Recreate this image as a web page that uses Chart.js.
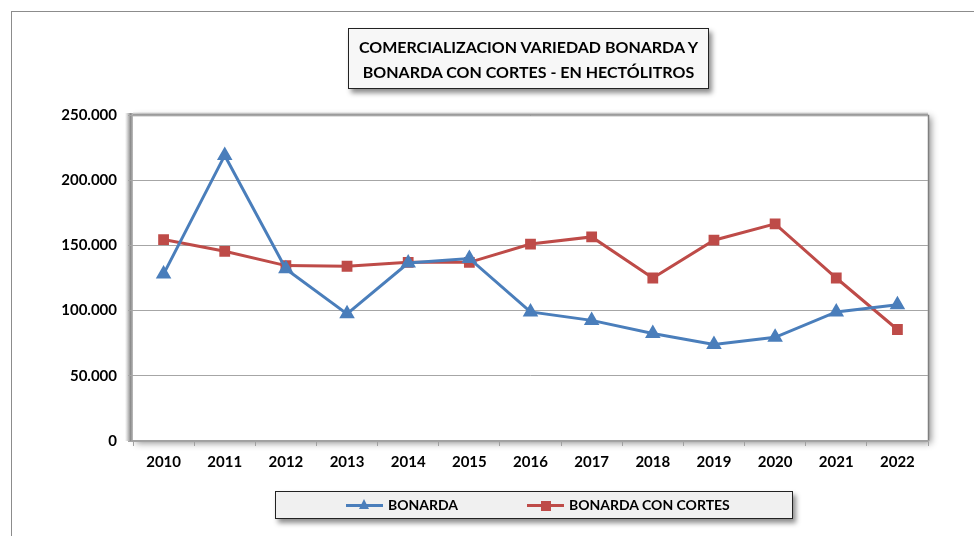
<!DOCTYPE html>
<html>
<head>
<meta charset="utf-8">
<script src="https://cdn.jsdelivr.net/npm/chart.js@4.4.1/dist/chart.umd.min.js"></script>
<style>
  html, body { margin: 0; padding: 0; background: #fff; }
  #wrap { position: relative; width: 974px; height: 536px; overflow: hidden; font-family: Lato, "Open Sans", sans-serif; }
  #frame { position: absolute; left: 11px; top: 11px; width: 1000px; height: 600px; border-left: 1px solid #8c8c8c; border-top: 1px solid #8c8c8c; }
  canvas { position: absolute; left: 0; top: 0; }
  .box { position: absolute; border: 1px solid #222; box-shadow: 3px 4px 5px rgba(0,0,0,0.45); font-weight: bold; color: #000; }
  #title { left: 348px; top: 28px; width: 361px; height: 61px; background: #f7f7f7; text-align: center; font-size: 16px; line-height: 25px; padding-top: 5px; box-sizing: border-box; }
  #legend { left: 275px; top: 491px; width: 518px; height: 28px; background: #f0f0f0; font-size: 14px; box-sizing: border-box; }
  .item { position: absolute; top: 0; height: 26px; line-height: 26px; white-space: nowrap; }
  .line { position: absolute; top: 12px; width: 37px; height: 3px; }
  .mk { position: absolute; }
</style>
</head>
<body>
<div id="wrap">
  <div id="frame"></div>
  <canvas id="chart" width="974" height="536"></canvas>
  <div id="title" class="box">COMERCIALIZACION VARIEDAD BONARDA Y<br>BONARDA CON CORTES - EN HECTÓLITROS</div>
  <div id="legend" class="box"></div>
</div>
<script>
const years = ['2010', '2011', '2012', '2013', '2014', '2015', '2016', '2017', '2018', '2019', '2020', '2021', '2022'];
const bonarda = [128000, 219000, 132000, 97500, 136500, 140000, 99000, 92500, 82500, 74000, 79500, 99000, 104500];
const bonardaCortes = [154500, 145500, 134500, 134000, 137000, 137000, 151000, 156500, 125000, 154000, 166500, 125000, 85500];
const seriesNames = ['BONARDA', 'BONARDA CON CORTES'];
const seriesColors = ['#4a7ebb', '#be4b48'];
const yTicks = [0, 50000, 100000, 150000, 200000, 250000];

// plot area background with the excel-like shadow
const plotBack = {
  id: 'plotBack',
  beforeDraw(chart) {
    const { ctx, chartArea: a } = chart;
    ctx.save();
    ctx.shadowColor = 'rgba(0,0,0,0.45)';
    ctx.shadowBlur = 7;
    ctx.shadowOffsetX = 3;
    ctx.shadowOffsetY = 2;
    ctx.fillStyle = '#fff';
    ctx.fillRect(a.left, a.top, a.right - a.left, a.bottom - a.top);
    ctx.restore();
    ctx.save();
    let g = ctx.createLinearGradient(a.left - 8, 0, a.left, 0);
    g.addColorStop(0, 'rgba(160,160,160,0)');
    g.addColorStop(0.7, 'rgba(140,140,140,1)');
    g.addColorStop(1, 'rgba(190,190,190,1)');
    ctx.fillStyle = g;
    ctx.fillRect(a.left - 8, a.top - 2, 8, a.bottom - a.top + 2);
    g = ctx.createLinearGradient(0, a.top - 3, 0, a.top);
    g.addColorStop(0, 'rgba(160,160,160,0)');
    g.addColorStop(1, 'rgba(150,150,150,1)');
    ctx.fillStyle = g;
    ctx.fillRect(a.left, a.top - 3, a.right - a.left, 3);
    ctx.strokeStyle = '#7f7f7f';
    ctx.lineWidth = 1.5;
    ctx.beginPath();
    ctx.moveTo(a.left, a.top + 0.5);
    ctx.lineTo(a.right + 0.5, a.top + 0.5);
    ctx.lineTo(a.right + 0.5, a.bottom);
    ctx.stroke();
    ctx.restore();
  }
};

new Chart(document.getElementById('chart'), {
  type: 'line',
  data: {
    labels: years,
    datasets: [
      {
        label: seriesNames[0],
        data: bonarda,
        borderColor: seriesColors[0],
        backgroundColor: seriesColors[0],
        borderWidth: 3,
        pointStyle: 'triangle',
        pointRadius: 6,
        pointHoverRadius: 6,
        tension: 0
      },
      {
        label: seriesNames[1],
        data: bonardaCortes,
        borderColor: seriesColors[1],
        backgroundColor: seriesColors[1],
        borderWidth: 3,
        pointStyle: 'rect',
        pointRadius: 5.5,
        pointHoverRadius: 5.5,
        tension: 0
      }
    ]
  },
  options: {
    responsive: false,
    animation: false,
    layout: { padding: { left: 0, top: 115, right: 46, bottom: 0 } },
    plugins: {
      legend: { display: false },
      title: { display: false },
      tooltip: { enabled: false }
    },
    scales: {
      x: {
        offset: true,
        grid: { offset: true, drawOnChartArea: false, tickLength: 5, color: '#a0a0a0' },
        border: { color: '#a0a0a0', width: 1.5 },
        ticks: { color: '#000', padding: 7, font: { family: 'Lato', size: 15, weight: 'bold' } },
        afterFit(scale) { scale.height = 95; }
      },
      y: {
        min: 0,
        max: 250000,
        afterBuildTicks(scale) { scale.ticks = yTicks.map(v => ({ value: v })); },
        grid: { color: '#a6a6a6', tickLength: 5, lineWidth: 1 },
        border: { display: false },
        ticks: {
          color: '#000',
          padding: 11,
          font: { family: 'Lato', size: 15, weight: 'bold' },
          callback: v => v.toLocaleString('de-DE')
        },
        afterFit(scale) { scale.width = 133; }
      }
    }
  },
  plugins: [plotBack]
});

// legend built from the series arrays
const legend = document.getElementById('legend');
const itemLeft = [70, 251];
seriesNames.forEach((name, i) => {
  const it = document.createElement('div');
  it.className = 'item';
  it.style.left = itemLeft[i] + 'px';
  const ln = document.createElement('div');
  ln.className = 'line';
  ln.style.left = '0px';
  ln.style.background = seriesColors[i];
  const mk = document.createElement('div');
  mk.className = 'mk';
  if (i === 0) {
    mk.style.left = '13px';
    mk.style.top = '7px';
    mk.style.width = '0';
    mk.style.height = '0';
    mk.style.borderLeft = '5px solid transparent';
    mk.style.borderRight = '5px solid transparent';
    mk.style.borderBottom = '10px solid ' + seriesColors[i];
  } else {
    mk.style.left = '14px';
    mk.style.top = '9px';
    mk.style.width = '10px';
    mk.style.height = '10px';
    mk.style.background = seriesColors[i];
  }
  const tx = document.createElement('span');
  tx.textContent = name;
  tx.style.marginLeft = '42px';
  it.appendChild(ln);
  it.appendChild(mk);
  it.appendChild(tx);
  legend.appendChild(it);
});
</script>
</body>
</html>
